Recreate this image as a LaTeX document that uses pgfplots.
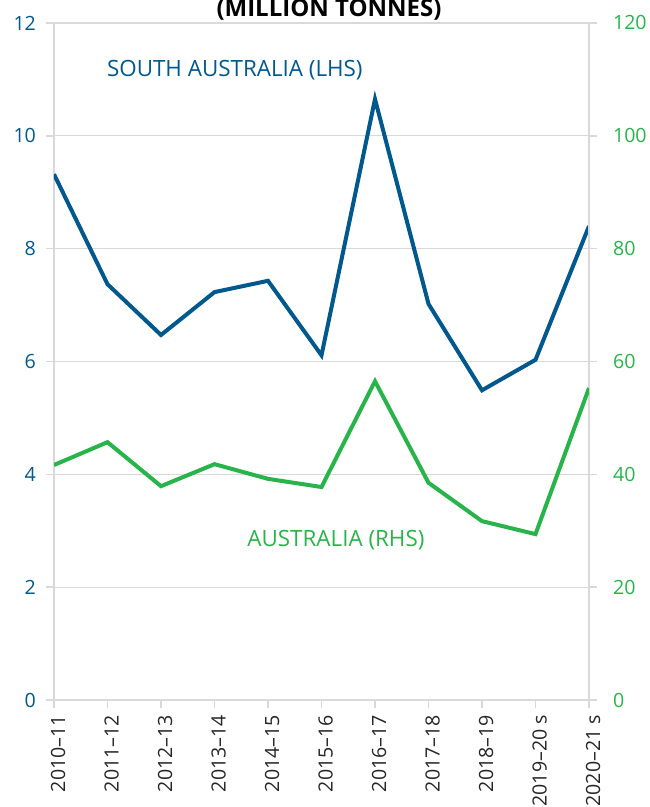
\documentclass[border=0pt]{standalone}
\usepackage{pgfplots}
\pgfplotsset{compat=1.18}
\usepackage{fontspec}
\setmainfont{Open Sans}
\definecolor{sablue}{RGB}{0,88,140}
\definecolor{augreen}{RGB}{40,180,75}
\definecolor{gridgray}{RGB}{217,217,217}
\begin{document}
\begin{tikzpicture}
\pgfplotsset{
  common/.style={
    at={(0,0)}, anchor=south west,
    scale only axis, width=267.5pt, height=338.5pt,
    xmin=0, xmax=10,
    xtick={0,...,10},
    tick align=outside,
    major tick length=4pt,
    tick style={gridgray, line width=0.8pt},
    /pgf/number format/assume math mode=true,
    ticklabel style={font=\fontsize{9.8}{12}\selectfont},
  }
}
\begin{axis}[common,
  ymin=0, ymax=12, ytick={0,2,...,12},
  axis y line*=left, axis x line*=bottom,
  axis line style={gridgray, line width=0.8pt},
  ymajorgrids, grid style={gridgray, line width=0.6pt},
  yticklabel style={color=sablue, xshift=-1.5pt},
  xticklabels={2010--11,2011--12,2012--13,2013--14,2014--15,2015--16,2016--17,2017--18,2018--19,2019--20 s,2020--21 s},
  xticklabel style={rotate=90, anchor=east, color=black!85},
  x tick label style={yshift=-2pt},
]
\addplot[sablue, line width=2pt] coordinates {
(0,9.32) (1,7.37) (2,6.47) (3,7.23) (4,7.43) (5,6.11) (6,10.65) (7,7.02) (8,5.49) (9,6.03) (10,8.40)};
\node[sablue, font=\fontsize{11.2}{13}\selectfont] at (axis cs:3.38,11.17) {SOUTH AUSTRALIA (LHS)};
\node[augreen, font=\fontsize{11.2}{13}\selectfont] at (axis cs:5.27,2.84) {AUSTRALIA (RHS)};
\end{axis}
\begin{axis}[common,
  ymin=0, ymax=120, ytick={0,20,...,120},
  axis y line*=right, axis x line=none,
  axis line style={gridgray, line width=0.8pt},
  yticklabel style={color=augreen, xshift=4.5pt},
  xticklabels={},
]
\addplot[augreen, line width=2pt] coordinates {
(0,41.65) (1,45.7) (2,37.9) (3,41.8) (4,39.2) (5,37.75) (6,56.5) (7,38.5) (8,31.7) (9,29.4) (10,55.3)};
\end{axis}
\node[anchor=base, font=\fontsize{12}{14}\selectfont\bfseries] at (137.5pt,341.5pt) {(MILLION TONNES)};
\pgfresetboundingbox
\useasboundingbox (-27pt,-53.5pt) rectangle (297.5pt,350pt);
\end{tikzpicture}
\end{document}
